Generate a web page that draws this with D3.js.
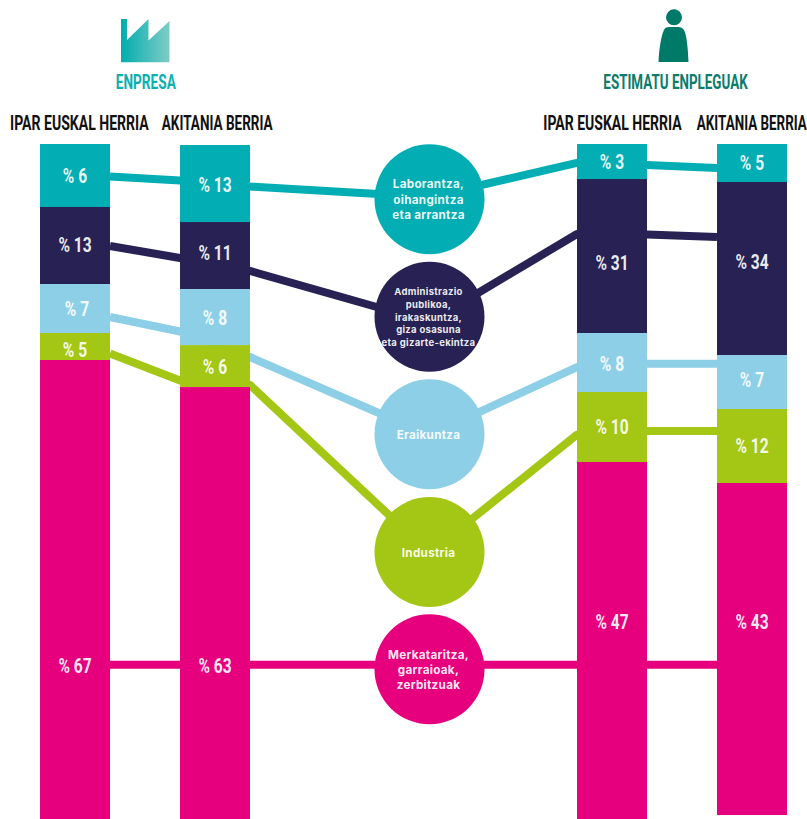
<!DOCTYPE html>
<html>
<head>
<meta charset="utf-8">
<title>Enpresa / Estimatu enpleguak</title>
<script src="https://d3js.org/d3.v7.min.js"></script>
<style>
  html, body { margin: 0; padding: 0; background: #fff; overflow: hidden; }
  .condensed { font-family: 'Roboto', sans-serif; font-weight: 700; }
  .circle-label { font-family: 'Inter', 'Open Sans', sans-serif; font-weight: 700; fill: #fff; fill-opacity: 0.93; text-anchor: middle; letter-spacing: 0.3px; }
</style>
</head>
<body>
<div id="chart"></div>
<script>
// Data

let columns = ['ipar1', 'akitania1', 'ipar2', 'akitania2']
let columnNames = ['IPAR EUSKAL HERRIA', 'AKITANIA BERRIA', 'IPAR EUSKAL HERRIA', 'AKITANIA BERRIA']
let sectors = ['laborantza', 'administrazio', 'eraikuntza', 'industria', 'merkataritza']

// the printed percentages
let laborantzaPct = [6, 13, 3, 5]
let administrazioPct = [13, 11, 31, 34]
let eraikuntzaPct = [7, 8, 8, 7]
let industriaPct = [5, 6, 10, 12]
let merkataritzaPct = [67, 63, 47, 43]

// the drawn segment lengths (the original is not to scale with its labels)
let topGap = [0, 0.15, 0, 0]
let laborantzaDrawn = [9.33, 11.41, 5.19, 5.63]
let administrazioDrawn = [11.41, 9.93, 22.81, 25.63]
let eraikuntzaDrawn = [7.26, 8.3, 8.74, 8]
let industriaDrawn = [4, 6.22, 10.37, 10.96]
let merkataritzaDrawn = [68, 64, 52.89, 49.19]

// connector levels: bar 1 right, bar 2 left, bar 2 right, circle, bar 3 left, bar 3 right, bar 4 left
let laborantzaLine = [4.81, 5.41, 6.3, 7.85, 2.81, 3.11, 3.56]
let administrazioLine = [15.11, 16.89, 18.81, 26.37, 13.33, 13.41, 13.78]
let eraikuntzaLine = [25.63, 27.78, 31.56, 43.11, 33.04, 32.55, 32.55]
let industriaLine = [31.04, 35.04, 35.7, 60.59, 43.07, 42.52, 42.52]
let merkataritzaLine = [77.14, 77.14, 77.14, 77.14, 77.14, 77.14, 77.14]

// circle levels and their captions
let circleLevels = [8.18, 25.59, 43, 60.44, 77.82]
let circleLabels = [
  ['Laborantza,', 'oihangintza', 'eta arrantza'],
  ['Administrazio', 'publikoa,', 'irakaskuntza,', 'giza osasuna', 'eta gizarte-ekintza'],
  ['Eraikuntza'],
  ['Industria'],
  ['Merkataritza,', 'garraioak,', 'zerbitzuak']
]

// where the percentage sits inside each bar
let laborantzaLabelAt = [4.67, 5.93, 2.52, 2.74]
let administrazioLabelAt = [14.96, 16.07, 17.56, 17.41]
let eraikuntzaLabelAt = [24.44, 25.7, 32.59, 34.89]
let industriaLabelAt = [30.37, 32.96, 41.85, 44.67]
let merkataritzaLabelAt = [77.33, 77.33, 70.67, 70.67]

let pcts = [laborantzaPct, administrazioPct, eraikuntzaPct, industriaPct, merkataritzaPct]
let drawn = [laborantzaDrawn, administrazioDrawn, eraikuntzaDrawn, industriaDrawn, merkataritzaDrawn]
let lines = [laborantzaLine, administrazioLine, eraikuntzaLine, industriaLine, merkataritzaLine]
let labelAt = [laborantzaLabelAt, administrazioLabelAt, eraikuntzaLabelAt, industriaLabelAt, merkataritzaLabelAt]

// Set up sizes

var width = 807
var height = 819
var barWidth = 70
var circleX = 429.5
var circleRadius = 55

var svg = d3
  .select('#chart')
  .append('svg')
  .attr('width', width)
  .attr('height', height)
  .style('display', 'block')

// Create your scales

let xPositionScale = d3.scaleOrdinal().domain(columns).range([40, 180, 577, 717])

let yPositionScale = d3.scaleLinear().domain([0, 100]).range([144, 819])

let colorScale = d3
  .scaleOrdinal()
  .domain(sectors)
  .range(['#02adb3', '#272253', '#8ecfe8', '#a4c614', '#e6007e'])

// Stack the segments, one column after the other

let rows = columns.map((c, i) => {
  let row = { column: c, gap: topGap[i] }
  sectors.forEach((s, j) => {
    row[s] = drawn[j][i]
  })
  return row
})

let stacked = d3.stack().keys(['gap'].concat(sectors))(rows)

// No condensed font here, so squeeze Roboto to the width of the original lettering

function squeeze(selection, widthOf) {
  selection.each(function(d, i) {
    let el = d3.select(this)
    let natural = this.getComputedTextLength()
    let k = widthOf(natural, i) / natural
    el.attr('transform', 'translate(' + el.attr('x') + ',' + el.attr('y') + ') scale(' + k + ',1)')
      .attr('x', 0)
      .attr('y', 0)
  })
}

// Connector lines go under everything

var line = d3
  .line()
  .x(d => d.x)
  .y(d => yPositionScale(d.level))

let lineX = [
  xPositionScale('ipar1') + barWidth,
  xPositionScale('akitania1'),
  xPositionScale('akitania1') + barWidth,
  circleX,
  xPositionScale('ipar2'),
  xPositionScale('ipar2') + barWidth,
  xPositionScale('akitania2')
]

svg
  .selectAll('.connector')
  .data(sectors)
  .enter()
  .append('path')
  .attr('class', 'connector')
  .attr('d', (d, i) => line(lines[i].map((level, j) => ({ x: lineX[j], level: level }))))
  .attr('fill', 'none')
  .attr('stroke', d => colorScale(d))
  .attr('stroke-width', 8)
  .attr('stroke-linejoin', 'round')

// Bars

svg
  .selectAll('.layer')
  .data(stacked.slice(1))
  .enter()
  .append('g')
  .attr('class', 'layer')
  .attr('fill', d => colorScale(d.key))
  .selectAll('rect')
  .data(d => d)
  .enter()
  .append('rect')
  .attr('x', d => xPositionScale(d.data.column))
  .attr('y', d => yPositionScale(d[0]))
  .attr('width', barWidth)
  .attr('height', d => yPositionScale(d[1]) - yPositionScale(d[0]))

// Percentages in the bars

sectors.forEach((s, j) => {
  svg
    .selectAll('.pct-' + s)
    .data(columns)
    .enter()
    .append('text')
    .attr('class', 'condensed pct-' + s)
    .text((d, i) => '% ' + pcts[j][i])
    .attr('x', (d, i) => {
      // the 7 in the first bar is printed a little off centre
      let nudge = s === 'eraikuntza' && i === 0 ? 2 : 0
      return xPositionScale(d) + barWidth / 2 + nudge
    })
    .attr('y', (d, i) => yPositionScale(labelAt[j][i]))
    .attr('dy', 7.5)
    .attr('text-anchor', 'middle')
    .attr('font-size', 20.5)
    .attr('fill', '#fff')
    .attr('fill-opacity', 0.92)
    .call(squeeze, w => w * 0.76)
})

// Circles with captions

svg
  .selectAll('.sector-circle')
  .data(sectors)
  .enter()
  .append('circle')
  .attr('class', 'sector-circle')
  .attr('cx', circleX)
  .attr('cy', (d, i) => yPositionScale(circleLevels[i]))
  .attr('r', circleRadius)
  .attr('fill', d => colorScale(d))

circleLabels.forEach((rowsOfText, i) => {
  let fontSize = rowsOfText.length > 3 ? 9.5 : 11.7
  let lineHeight = rowsOfText.length > 3 ? 12.8 : 15.4
  let first = yPositionScale(circleLevels[i]) - ((rowsOfText.length - 1) * lineHeight) / 2 + fontSize * 0.4
  svg
    .selectAll('.caption-' + i)
    .data(rowsOfText)
    .enter()
    .append('text')
    .attr('class', 'circle-label caption-' + i)
    .text(d => d)
    .attr('x', circleX - 1)
    .attr('y', (d, k) => first + k * lineHeight)
    .attr('font-size', fontSize)
})

// Column headings

let nameCentres = [79.4, 217.2, 612.5, 751.8]
let nameWidths = [138.7, 111, 138.4, 110]

svg
  .selectAll('.column-name')
  .data(columns)
  .enter()
  .append('text')
  .attr('class', 'condensed column-name')
  .text((d, i) => columnNames[i])
  .attr('x', (d, i) => nameCentres[i])
  .attr('y', 129.7)
  .attr('text-anchor', 'middle')
  .attr('font-size', 20.5)
  .attr('fill', '#111')
  .call(squeeze, (w, i) => nameWidths[i])

// Group titles

svg
  .append('text')
  .attr('class', 'condensed')
  .text('ENPRESA')
  .attr('x', 145.8)
  .attr('y', 88.5)
  .attr('text-anchor', 'middle')
  .attr('font-size', 20.5)
  .attr('fill', '#0db0af')
  .call(squeeze, () => 60)

svg
  .append('text')
  .attr('class', 'condensed')
  .text('ESTIMATU ENPLEGUAK')
  .attr('x', 675.5)
  .attr('y', 88.5)
  .attr('text-anchor', 'middle')
  .attr('font-size', 20.5)
  .attr('fill', '#0d7c6c')
  .call(squeeze, () => 144.4)

// Icons

var gradient = svg
  .append('defs')
  .append('linearGradient')
  .attr('id', 'factory-fill')

gradient.append('stop').attr('offset', '0%').attr('stop-color', '#00aeae')
gradient.append('stop').attr('offset', '100%').attr('stop-color', '#80cbc6')

svg
  .append('path')
  .attr('d', 'M121,19 L127,19 L127,40 L148.5,19 L148.5,40.5 L169.5,21 L169.5,62.3 L121,62.3 Z')
  .attr('fill', 'url(#factory-fill)')

svg
  .append('circle')
  .attr('cx', 674)
  .attr('cy', 17.3)
  .attr('r', 8)
  .attr('fill', '#007a68')

svg
  .append('path')
  .attr('d', 'M658.5,62 C659,50 661,36 664,30 Q665,27 669,27 L679,27 Q682,27 684,30 C687,36 688,50 688.5,62 Z')
  .attr('fill', '#007a68')
</script>
</body>
</html>
